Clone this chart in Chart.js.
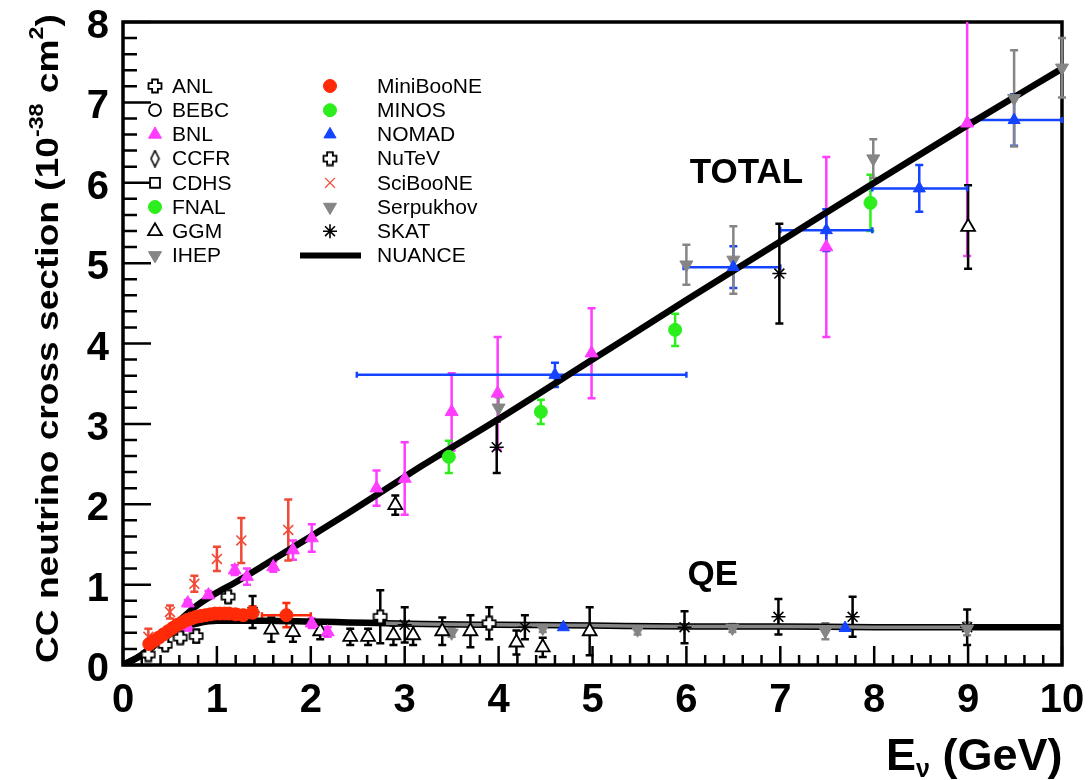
<!DOCTYPE html>
<html>
<head>
<meta charset="utf-8">
<script src="https://cdn.jsdelivr.net/npm/chart.js@4.4.1/dist/chart.umd.min.js"></script>
<style>
  html, body { margin: 0; padding: 0; background: #fff; }
  canvas { display: block; }
</style>
</head>
<body>
<canvas id="xsec" width="1088" height="780" style="width:1088px;height:780px"></canvas>
<script>
// ---- NUANCE prediction (total and quasi-elastic) ----
const nuanceE     = [0, 0.2, 0.4, 0.6, 0.8, 1.0, 1.2, 1.5, 2.0, 2.4, 2.8, 3.2, 4.0, 5.0, 6.0, 7.0, 8.0, 9.0, 10.0];
const nuanceTotal = [0, 0.13, 0.33, 0.55, 0.75, 0.90, 1.03, 1.24, 1.60, 1.89, 2.19, 2.49, 3.06, 3.80, 4.54, 5.27, 6.00, 6.72, 7.42];
const nuanceQE    = [0, 0.12, 0.30, 0.45, 0.52, 0.55, 0.55, 0.55, 0.54, 0.53, 0.52, 0.51, 0.50, 0.49, 0.48, 0.48, 0.47, 0.47, 0.47];

// ---- measurements: energy (GeV), cross section (1e-38 cm2), error ----
const anlE   = [0.27, 0.45, 0.61, 0.78, 1.12, 2.74, 3.90];
const anlXs  = [0.13, 0.25, 0.34, 0.36, 0.85, 0.60, 0.52];
const anlErr = [0.04, 0.05, 0.06, 0.08, 0.07, 0.33, 0.20];

const bnlE   = [0.69, 0.91, 1.19, 1.32, 1.60, 1.81, 2.01, 2.70, 3.00, 3.50, 3.99, 4.99, 7.49, 8.99, 0.69, 1.19, 2.01, 2.18];
const bnlXs  = [0.77, 0.87, 1.18, 1.10, 1.22, 1.43, 1.58, 2.20, 2.32, 3.15, 3.38, 3.88, 5.20, 6.74, 0.47, 0.62, 0.52, 0.41];
const bnlErr = [0.04, 0.05, 0.06, 0.10, 0.06, 0.12, 0.17, 0.22, 0.45, 0.48, 0.70, 0.56, 1.12, 1.65, 0.04, 0.05, 0.06, 0.06];

const ggmE   = [2.90, 9.00, 1.58, 1.81, 2.10, 2.42, 2.61, 2.88, 3.09, 3.40, 3.70, 4.19, 4.47, 4.97];
const ggmXs  = [1.99, 5.45, 0.44, 0.41, 0.42, 0.35, 0.35, 0.37, 0.37, 0.42, 0.42, 0.28, 0.22, 0.42];
const ggmErr = [0.12, 0.52, 0.15, 0.12, 0.10, 0.10, 0.10, 0.12, 0.12, 0.17, 0.20, 0.15, 0.12, 0.30];

const ihepE   = [4.00];
const ihepXs  = [3.20];
const ihepErr = [0.13];

const mbE    = [0.28, 0.33, 0.38, 0.43, 0.48, 0.53, 0.58, 0.63, 0.68, 0.73, 0.78, 0.83, 0.88, 0.93, 0.98, 1.03, 1.08, 1.13, 1.20, 1.28, 1.38, 1.74];
const mbXs   = [0.26, 0.30, 0.34, 0.38, 0.42, 0.46, 0.50, 0.53, 0.56, 0.58, 0.60, 0.61, 0.62, 0.63, 0.64, 0.64, 0.64, 0.64, 0.63, 0.62, 0.65, 0.62];
const mbErr  = [0.05, 0.05, 0.05, 0.05, 0.05, 0.05, 0.05, 0.05, 0.05, 0.05, 0.05, 0.05, 0.05, 0.05, 0.05, 0.05, 0.05, 0.05, 0.06, 0.06, 0.08, 0.15];
const mbBinW = [0, 0, 0, 0, 0, 0, 0, 0, 0, 0, 0, 0, 0, 0, 0, 0, 0, 0, 0, 0, 0, 0.26];

const minosE   = [3.47, 4.45, 5.88, 7.96];
const minosXs  = [2.59, 3.15, 4.17, 5.75];
const minosErr = [0.20, 0.15, 0.20, 0.35];

const nomadE     = [4.60, 6.50, 7.49, 8.48, 9.49, 4.69, 7.69];
const nomadXs    = [3.61, 4.95, 5.41, 5.93, 6.78, 0.47, 0.46];
const nomadErr   = [0.15, 0.26, 0.26, 0.29, 0.32, 0, 0];
const nomadBinLo = [2.49, 5.97, 7.00, 7.98, 8.99, null, null];
const nomadBinHi = [6.00, 7.00, 7.98, 8.99, 10.0, null, null];

const sciboneE   = [0.27, 0.50, 0.76, 1.00, 1.26, 1.76];
const sciboneXs  = [0.35, 0.66, 1.01, 1.32, 1.55, 1.68];
const sciboneErr = [0.10, 0.08, 0.10, 0.15, 0.28, 0.38];

const serpE   = [6.00, 6.50, 7.99, 9.49, 10.0, 3.50, 4.47, 5.48, 6.49, 7.48, 8.99];
const serpXs  = [4.98, 5.04, 6.30, 7.05, 7.43, 0.40, 0.46, 0.44, 0.46, 0.42, 0.45];
const serpErr = [0.25, 0.42, 0.24, 0.60, 0.37, 0.05, 0.05, 0.06, 0.05, 0.10, 0.08];

const skatE   = [3.98, 6.99, 1.38, 3.00, 4.28, 5.98, 6.98, 7.77, 8.99];
const skatXs  = [2.71, 4.87, 0.66, 0.50, 0.47, 0.47, 0.60, 0.60, 0.47];
const skatErr = [0.32, 0.62, 0.20, 0.22, 0.15, 0.20, 0.22, 0.25, 0.22];

// range where the QE curve carries the grey overlay
const qeOverlayFrom = 2.8, qeOverlayTo = 9.0;

const FONT = '"Liberation Sans", Arial, Helvetica, sans-serif';
const MAGENTA = '#ff3cff', GREEN = '#2cee1c', BLUE = '#1444ff', GREY = '#858585', RED = '#ff2a08';

const pts = (e, s) => e.map((v, i) => ({ x: v, y: s[i] }));

// hand-made marker images
function openCross(size) {
  const c = document.createElement('canvas');
  c.width = c.height = size;
  const g = c.getContext('2d');
  const m = size / 2, w = size * 0.18, a = 1.5, b = size - 1.5;
  g.beginPath();
  g.moveTo(m - w, a); g.lineTo(m + w, a); g.lineTo(m + w, m - w); g.lineTo(b, m - w);
  g.lineTo(b, m + w); g.lineTo(m + w, m + w); g.lineTo(m + w, b); g.lineTo(m - w, b);
  g.lineTo(m - w, m + w); g.lineTo(a, m + w); g.lineTo(a, m - w); g.lineTo(m - w, m - w);
  g.closePath();
  g.fillStyle = '#fff'; g.fill();
  g.lineWidth = 1.8; g.strokeStyle = '#000'; g.stroke();
  return c;
}
function openDiamond(w, h) {
  const c = document.createElement('canvas');
  c.width = w; c.height = h;
  const g = c.getContext('2d');
  g.beginPath();
  g.moveTo(w / 2, 1); g.lineTo(w - 1.5, h / 2); g.lineTo(w / 2, h - 1); g.lineTo(1.5, h / 2);
  g.closePath();
  g.fillStyle = '#fff'; g.fill();
  g.lineWidth = 1.6; g.strokeStyle = '#000'; g.stroke();
  return c;
}
const crossImg = openCross(16);
const diamondImg = openDiamond(11, 18);

function marker(label, slot, e, s, err, style) {
  return Object.assign({
    label, legendSlot: slot,
    data: pts(e, s), errY: err,
    clip: false, order: 1
  }, style);
}

const datasets = [
  marker('ANL', 0, anlE, anlXs, anlErr, { pointStyle: crossImg, pointRadius: 8, errColor: '#000' }),
  marker('BEBC', 1, [], [], [], { pointStyle: 'circle', pointRadius: 6, backgroundColor: '#fff', borderColor: '#000', pointBorderWidth: 1.8 }),
  marker('BNL', 2, bnlE, bnlXs, bnlErr, { pointStyle: 'triangle', pointRadius: 7.5, backgroundColor: MAGENTA, borderColor: MAGENTA, pointBorderWidth: 1 }),
  marker('CCFR', 3, [], [], [], { pointStyle: diamondImg, pointRadius: 8, errColor: '#000' }),
  marker('CDHS', 4, [], [], [], { pointStyle: 'rect', pointRadius: 7, backgroundColor: '#fff', borderColor: '#000', pointBorderWidth: 1.8 }),
  marker('FNAL', 5, [], [], [], { pointStyle: 'circle', pointRadius: 6.5, backgroundColor: GREEN, borderColor: GREEN, pointBorderWidth: 1 }),
  marker('GGM', 6, ggmE, ggmXs, ggmErr, { pointStyle: 'triangle', pointRadius: 8, backgroundColor: '#fff', borderColor: '#000', pointBorderWidth: 1.8 }),
  marker('IHEP', 7, ihepE, ihepXs, ihepErr, { pointStyle: 'triangle', pointRotation: 180, pointRadius: 7.5, backgroundColor: GREY, borderColor: GREY, pointBorderWidth: 1 }),
  marker('MiniBooNE', 8, mbE, mbXs, mbErr, { pointStyle: 'circle', pointRadius: 6.5, backgroundColor: RED, borderColor: RED, pointBorderWidth: 1, binHalfWidth: mbBinW, order: 0 }),
  marker('MINOS', 9, minosE, minosXs, minosErr, { pointStyle: 'circle', pointRadius: 6.5, backgroundColor: GREEN, borderColor: GREEN, pointBorderWidth: 1 }),
  marker('NOMAD', 10, nomadE, nomadXs, nomadErr, { pointStyle: 'triangle', pointRadius: 7, backgroundColor: BLUE, borderColor: BLUE, pointBorderWidth: 1, binLo: nomadBinLo, binHi: nomadBinHi }),
  marker('NuTeV', 11, [], [], [], { pointStyle: crossImg, pointRadius: 8, errColor: '#000' }),
  marker('SciBooNE', 12, sciboneE, sciboneXs, sciboneErr, { pointStyle: 'crossRot', pointRadius: 7, borderColor: '#f04a36', backgroundColor: '#f04a36', pointBorderWidth: 1.6, legendBorderWidth: 1.2 }),
  marker('Serpukhov', 13, serpE, serpXs, serpErr, { pointStyle: 'triangle', pointRotation: 180, pointRadius: 7.5, backgroundColor: GREY, borderColor: GREY, pointBorderWidth: 1 }),
  marker('SKAT', 14, skatE, skatXs, skatErr, { pointStyle: 'star', pointRadius: 7, backgroundColor: '#000', borderColor: '#000', pointBorderWidth: 1.6 }),
  {
    label: 'NUANCE', legendSlot: 15, data: pts(nuanceE, nuanceTotal),
    showLine: true, pointRadius: 0, borderColor: '#000', borderWidth: 6.5,
    cubicInterpolationMode: 'monotone', order: 5
  },
  {
    label: 'NUANCE QE', data: pts(nuanceE, nuanceQE),
    showLine: true, pointRadius: 0, borderColor: '#000', borderWidth: 6.5,
    cubicInterpolationMode: 'monotone', order: 5
  },
  {
    label: 'QE overlay',
    data: pts(nuanceE, nuanceQE).filter(p => p.x >= qeOverlayFrom && p.x <= qeOverlayTo),
    showLine: true, pointRadius: 0, borderColor: GREY, borderWidth: 3.5,
    cubicInterpolationMode: 'monotone', order: 4
  }
];

// frame with inward major / minor ticks, ROOT style
const frameTicks = {
  id: 'frameTicks',
  beforeDatasetsDraw(chart) {
    const { ctx, chartArea: a, scales: { x, y } } = chart;
    ctx.save();
    ctx.strokeStyle = '#000';
    ctx.lineWidth = 2.5;
    ctx.beginPath();
    for (let i = 0; i <= 50; i++) {
      const px = x.getPixelForValue(x.min + i * (x.max - x.min) / 50);
      const len = i % 5 === 0 ? 19 : 10;
      ctx.moveTo(px, a.bottom); ctx.lineTo(px, a.bottom - len);
    }
    for (let i = 0; i <= 40; i++) {
      const py = y.getPixelForValue(y.min + i * (y.max - y.min) / 40);
      const len = i % 5 === 0 ? 28 : 14;
      ctx.moveTo(a.left, py); ctx.lineTo(a.left + len, py);
    }
    ctx.stroke();
    ctx.lineWidth = 3.5;
    ctx.strokeRect(a.left, a.top, a.right - a.left, a.bottom - a.top);
    ctx.restore();
  }
};

// vertical and horizontal error bars with small end caps
const errorBars = {
  id: 'errorBars',
  beforeDatasetsDraw(chart) {
    const { ctx, chartArea: a, scales: { x, y } } = chart;
    ctx.save();
    ctx.beginPath();
    ctx.rect(a.left - 4, a.top, a.right - a.left + 8, a.bottom - a.top);
    ctx.clip();
    ctx.lineWidth = 2.5;
    chart.data.datasets.forEach(ds => {
      if (!ds.errY) return;
      ctx.strokeStyle = ds.errColor || ds.borderColor;
      ds.data.forEach((p, j) => {
        const px = x.getPixelForValue(p.x), py = y.getPixelForValue(p.y);
        const e = ds.errY[j];
        ctx.beginPath();
        if (e) {
          const t = y.getPixelForValue(p.y + e), b = y.getPixelForValue(p.y - e);
          ctx.moveTo(px, t); ctx.lineTo(px, b);
          ctx.moveTo(px - 4, t); ctx.lineTo(px + 4, t);
          ctx.moveTo(px - 4, b); ctx.lineTo(px + 4, b);
        }
        let lo = null, hi = null;
        if (ds.binLo && ds.binLo[j] != null) { lo = ds.binLo[j]; hi = ds.binHi[j]; }
        if (ds.binHalfWidth && ds.binHalfWidth[j]) { lo = p.x - ds.binHalfWidth[j]; hi = p.x + ds.binHalfWidth[j]; }
        if (lo != null) {
          const l = x.getPixelForValue(lo), r = x.getPixelForValue(hi);
          ctx.moveTo(l, py); ctx.lineTo(r, py);
          ctx.moveTo(l, py - 3); ctx.lineTo(l, py + 3);
          ctx.moveTo(r, py - 3); ctx.lineTo(r, py + 3);
        }
        ctx.stroke();
      });
    });
    ctx.restore();
  }
};

// two-column legend in the upper left of the frame
const legendBox = {
  id: 'legendBox',
  afterDatasetsDraw(chart) {
    const ctx = chart.ctx;
    ctx.save();
    ctx.font = '21px ' + FONT;
    ctx.textBaseline = 'middle';
    chart.data.datasets.forEach(ds => {
      if (ds.legendSlot == null) return;
      const col = Math.floor(ds.legendSlot / 8), row = ds.legendSlot % 8;
      const mx = col ? 330 : 155, tx = col ? 377 : 172, py = 86 + row * 24.2;
      if (ds.showLine) {
        ctx.strokeStyle = ds.borderColor;
        ctx.lineWidth = 6;
        ctx.beginPath(); ctx.moveTo(300, py); ctx.lineTo(361, py); ctx.stroke();
      } else {
        ctx.fillStyle = ds.backgroundColor || '#000';
        ctx.strokeStyle = ds.borderColor || '#000';
        const bw = ds.legendBorderWidth || ds.pointBorderWidth || 0;
        ctx.lineWidth = bw;
        Chart.helpers.drawPoint(ctx, {
          pointStyle: ds.pointStyle, radius: ds.pointRadius,
          rotation: ds.pointRotation || 0, borderWidth: bw
        }, mx, py);
      }
      ctx.fillStyle = '#000';
      ctx.fillText(ds.label, tx, py + 1);
    });
    ctx.restore();
  }
};

// curve labels and axis titles
const texts = {
  id: 'texts',
  afterDraw(chart) {
    const { ctx, scales: { x, y } } = chart;
    ctx.save();
    ctx.fillStyle = '#000';
    ctx.textAlign = 'center';
    ctx.textBaseline = 'alphabetic';
    ctx.font = 'bold 35px ' + FONT;
    ctx.fillText('TOTAL', x.getPixelForValue(6.64), y.getPixelForValue(6.0));
    ctx.fillText('QE', x.getPixelForValue(6.28), y.getPixelForValue(1.0));

    // x title: E_nu (GeV)
    ctx.textAlign = 'left';
    let cx = 886;
    const base = 770;
    ctx.font = 'bold 45px ' + FONT;
    ctx.fillText('E', cx, base); cx += ctx.measureText('E').width;
    ctx.font = 'bold 25px ' + FONT;
    ctx.fillText('\u03bd', cx, base + 7); cx += ctx.measureText('\u03bd').width;
    ctx.font = 'bold 45px ' + FONT;
    ctx.fillText(' (GeV)', cx, base);

    // y title, rotated
    ctx.translate(58, 663);
    ctx.rotate(-Math.PI / 2);
    ctx.scale(1.16, 1);
    let tx = 0;
    const seg = (t, size, dy) => {
      ctx.font = 'bold ' + size + 'px ' + FONT;
      ctx.fillText(t, tx, dy);
      tx += ctx.measureText(t).width;
    };
    seg('CC neutrino cross section (10', 32, 0);
    seg('-38', 20, -15);
    seg(' cm', 32, 0);
    seg('2', 20, -15);
    seg(')', 32, 0);
    ctx.restore();
  }
};

new Chart(document.getElementById('xsec'), {
  type: 'scatter',
  data: { datasets },
  options: {
    responsive: false,
    animation: false,
    devicePixelRatio: 1,
    layout: { padding: { top: 22, right: 26, left: 0, bottom: 0 } },
    plugins: { legend: { display: false }, tooltip: { enabled: false } },
    scales: {
      x: {
        type: 'linear', min: 0, max: 10,
        grid: { display: false }, border: { display: false },
        ticks: { stepSize: 1, color: '#000', padding: 4, maxRotation: 0, autoSkip: false,
                 font: { family: FONT, size: 40, weight: 'bold' } },
        afterFit(s) { s.height = 115; s.paddingLeft = 0; s.paddingRight = 0; }
      },
      y: {
        type: 'linear', min: 0, max: 8,
        grid: { display: false }, border: { display: false },
        ticks: { stepSize: 1, color: '#000', padding: 6, labelOffset: 5,
                 font: { family: FONT, size: 40, weight: 'bold' } },
        afterFit(s) { s.width = 123; s.paddingTop = 0; s.paddingBottom = 0; }
      }
    }
  },
  plugins: [frameTicks, errorBars, legendBox, texts]
});
</script>
</body>
</html>
